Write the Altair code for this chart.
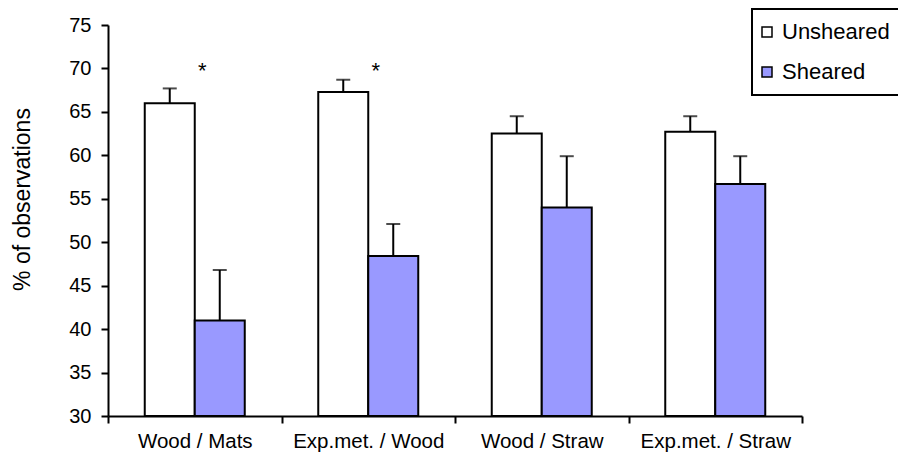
import altair as alt
import pandas as pd

categories = ["Wood / Mats", "Exp.met. / Wood", "Wood / Straw", "Exp.met. / Straw"]
treatments = ["Unsheared", "Sheared"]
unsheared = [66.0, 67.3, 62.5, 62.7]
unsheared_err = [1.7, 1.4, 2.0, 1.8]
sheared = [41.0, 48.4, 54.0, 56.7]
sheared_err = [5.8, 3.7, 5.9, 3.2]
star_categories = ["Wood / Mats", "Exp.met. / Wood"]
star_level = [68.9, 68.9]
colors = ["#FFFFFF", "#9999FF"]
y_min, y_max = 30, 75

rows = []
for i, c in enumerate(categories):
    rows.append({"cat": c, "treat": "Unsheared", "val": unsheared[i], "hi": unsheared[i] + unsheared_err[i]})
    rows.append({"cat": c, "treat": "Sheared", "val": sheared[i], "hi": sheared[i] + sheared_err[i]})
df = pd.DataFrame(rows)
stars = pd.DataFrame({"cat": star_categories, "y": star_level, "label": ["*"] * len(star_categories)})

FONT = "Liberation Sans"

xenc = alt.X(
    "cat:N",
    sort=categories,
    scale=alt.Scale(paddingInner=0, paddingOuter=0),
    axis=alt.Axis(
        title=None, labelAngle=0, labelFontSize=20.5, labelFont=FONT, labelColor="black",
        labelBaseline="alphabetic", labelPadding=24, tickBand="extent", tickSize=7,
        tickWidth=2, tickColor="black", domainColor="black", domainWidth=2, labelLimit=300,
    ),
)
xoff = alt.XOffset("treat:N", sort=treatments, scale=alt.Scale(paddingInner=0, paddingOuter=0.735))
yscale = alt.Scale(domain=[y_min, y_max], nice=False, zero=False)

bars = alt.Chart(df).mark_bar(stroke="black", strokeWidth=2).encode(
    x=xenc,
    xOffset=xoff,
    y=alt.Y(
        "val:Q",
        scale=yscale,
        axis=alt.Axis(
            title="% of observations", values=list(range(y_min, y_max + 5, 5)), labelFontSize=20,
            labelFont=FONT, labelColor="black", labelPadding=10, tickSize=7, tickWidth=2,
            tickColor="black", domainColor="black", domainWidth=2, grid=False,
            titleFont=FONT, titleFontSize=23, titleFontWeight="normal", titleColor="black",
            titleX=-86, titleY=174, titleAngle=-90, titleAlign="center", titleBaseline="middle",
        ),
    ),
    y2=alt.Y2(datum=y_min),
    fill=alt.Fill(
        "treat:N",
        sort=treatments,
        scale=alt.Scale(domain=treatments, range=colors),
        legend=alt.Legend(
            title=None, orient="none", legendX=644, legendY=-16, symbolType="square",
            symbolSize=100, symbolStrokeColor="black", symbolStrokeWidth=1.5,
            symbolOffset=-8, labelFont=FONT, labelFontSize=22, labelColor="black",
            labelOffset=4, rowPadding=18, padding=12, strokeColor="black",
            fillColor="white", labelLimit=300,
        ),
    ),
)

err = alt.Chart(df).mark_rule(color="black", strokeWidth=2).encode(
    x=alt.X("cat:N", sort=categories), xOffset=xoff,
    y=alt.Y("val:Q", scale=yscale), y2="hi:Q",
)
caps = alt.Chart(df).mark_tick(color="black", thickness=2, size=14, orient="horizontal").encode(
    x=alt.X("cat:N", sort=categories), xOffset=xoff,
    y=alt.Y("hi:Q", scale=yscale),
)
star_marks = alt.Chart(stars).mark_text(fontSize=22, font=FONT, color="black", dx=7.5, baseline="alphabetic").encode(
    x=alt.X("cat:N", sort=categories),
    y=alt.Y("y:Q", scale=yscale),
    text="label:N",
)

chart = alt.layer(bars, err, caps, star_marks).properties(
    width=694, height=391,
    autosize=alt.AutoSizeParams(type="none"),
    padding={"left": 100, "top": 17, "right": 96, "bottom": 37},
).configure_view(stroke=None).configure_legend(strokeWidth=2)

chart.save("out.html", embed_options={"renderer": "svg", "actions": False})
